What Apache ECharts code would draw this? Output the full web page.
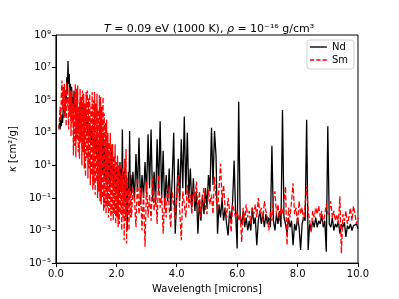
<!DOCTYPE html>
<html><head><meta charset="utf-8">
<script src="https://cdn.jsdelivr.net/npm/echarts@6/dist/echarts.min.js"></script>
<style>html,body{margin:0;padding:0;background:#fff}#c{width:399px;height:299px}</style>
</head><body><div id="c"></div>
<script>
// Two wavelength grids (microns): a fine one for the dense near-IR part, a coarser one after it
const nearStart = 0.10, nearStep = 0.02;   // 0.10 .. 2.48
const farStart = 2.50, farStep = 0.05;     // 2.50 .. 10.00
// log10 of opacity (cm^2/g)
const ndNearLog10 = [
 3.3, 3.6, 3.2, 3.9, 3.4, 4.1, 3.6, 4.4, 3.9, 4.8,
 4.2, 5.6, 4.8, 6.4, 5.4, 7.4, 6.0, 6.6, 5.2, 6.0,
 5.6, 5.8, 4.8, 5.2, 4.2, 5.6, 4.4, 5.0, 3.8, 4.6,
 3.6, 4.4, 3.1, 4.0, 3.6, 4.9, 4.2, 4.6, 3.8, 4.8,
 4.0, 4.6, 3.6, 4.4, 3.4, 4.2, 3.2, 4.0, 3.0, 3.8,
 2.8, 3.6, 2.6, 3.4, 2.4, 3.2, 2.2, 3.0, 2.0, 2.8,
 1.8, 2.6, 1.6, 2.8, 1.4, 2.4, 1.2, 2.6, 1.0, 2.2,
 0.8, 2.4, 0.6, 3.0, 0.4, 2.2, 0.2, 2.6, 0.0, 1.8,
 -0.2, 1.6, 0.2, 1.2, -0.4, 1.8, 0.0, 1.4, 2.3, 0.6,
 -0.4, 1.0, -0.2, 0.8, -0.8, 0.6, -0.6, 1.2, -1.0, 0.4,
 -0.8, 1.2, -0.4, 0.8, -0.6, 3.2, -0.2, 0.6, -1.2, 0.8,
 -0.6, 0.4, -1.0, -3.0, -0.4, 0.6, -0.8, 3.1, -0.6, 0.4
];
const ndFarLog10 = [
 -0.8, 0.6,
 -1.2, 1.7, -0.6, 2.7, -1.4, 0.4, -1.0, 1.2, -0.8, 2.9,
 -0.4, 3.2, -1.2, 0.6, -1.4, 2.6, -0.6, 3.7, -1.0, 1.9,
 -1.6, 0.4, -1.2, 0.8, -1.8, 0.2, 3.0, -3.2, -1.0, 1.4,
 -1.2, 2.6, -0.4, 4.0, -0.8, 3.0, -1.0, 0.8, -1.6, 0.2,
 -1.8, -0.6, -3.2, -1.2, -2.4, -0.8, -2.0, -0.4, -1.6, 0.4,
 -0.6, 3.3, -0.2, 3.1, 1.6, -3.2, -1.4, -2.2, -1.0, -2.4,
 -1.6, -2.6, -3.3, -1.8, -2.4, -1.2, 1.3, -2.0, -4.1, 4.9,
 -2.2, -2.6, -1.8, -2.8, -2.2, -3.0, -2.4, -3.0, -1.6, -2.6,
 -2.2, -3.9, -2.4, -1.8, -2.6, -2.0, -2.8, -2.0, -2.6, -2.2,
 -2.8, 2.2, -2.4, -3.0, -2.0, -2.6, -1.8, -2.8, 4.4, -2.2,
 -2.6, -3.2, -2.2, -2.8, -2.4, -3.9, -2.6, -3.0, -2.2, -2.8,
 -4.2, -2.6, -2.2, -2.4, 3.8, -4.2, -2.6, -3.0, -2.4, -2.8,
 -2.2, -2.8, -2.4, -2.6, -2.0, -2.8, -2.4, -4.3, 3.4, -2.6,
 -2.8, -2.2, -3.0, -2.6, -2.8, -2.4, -3.2, -2.6, -2.8, -2.5,
 -3.4, -2.7, -2.9, -2.6, -3.0, -2.7, -2.8, -2.6, -2.9
];
const smNearLog10 = [
 3.2, 3.9, 4.6, 3.8, 5.4, 6.2, 4.4, 5.8, 3.9, 6.0,
 4.0, 5.6, 3.4, 6.1, 4.6, 5.2, 3.2, 5.8, 4.0, 5.5,
 2.8, 5.6, 3.6, 4.8, 1.6, 5.4, 2.2, 6.0, 1.5, 5.7,
 2.6, 5.9, 1.8, 4.6, 1.4, 5.7, 2.4, 5.2, 1.0, 5.6,
 1.8, 5.4, 0.8, 4.8, 0.3, 5.5, 1.4, 5.6, 0.2, 5.1,
 0.8, 5.4, -0.2, 4.6, 0.4, 5.5, -0.5, 5.0, -0.2, 5.5,
 -0.8, 4.8, 0.0, 5.4, -1.0, 4.4, -0.6, 5.3, -1.2, 5.2,
 -1.4, 4.6, -1.0, 5.2, -1.8, 4.2, -1.6, 3.6, -2.0, 3.8,
 -1.6, 3.0, -2.2, 2.4, -1.8, 3.0, -2.4, 2.0, -2.0, 2.3,
 -2.4, 1.6, -2.0, 2.3, -2.6, 1.2, -2.2, 1.6, -2.8, 1.0,
 -2.6, 1.1, -2.0, 0.4, -3.0, 0.8, -2.2, 0.2, -3.6, 1.4,
 -2.4, 2.0, -3.8, 0.2, -2.0, -0.4, -3.0, 0.6, -2.2, -0.6
];
const smFarLog10 = [
 -2.2, -0.4,
 -1.0, -2.8, 0.2, -2.0, -0.4, -3.0, -0.6, -4.0, 0.0, -2.2,
 -0.8, -2.4, 0.2, -1.8, -0.6, -2.6, 0.4, -1.6, -0.8, -3.2,
 -1.0, -2.2, -0.2, -1.6, -2.8, -0.6, -1.4, -2.4, -0.8, 0.4,
 -1.8, -3.6, -0.6, -1.4, -2.2, -0.2, -1.6, -0.8, -2.0, -0.4,
 -1.2, 0.0, -1.8, -0.6, -2.2, -1.0, -0.4, -1.6, -2.0, -0.5,
 -1.4, -0.8, -2.0, 0.3, -1.0, -1.8, -0.4, 1.1, -1.2, -0.2,
 -1.6, -2.2, -1.0, -1.8, -3.1, -1.4, -1.3, -2.2, -1.8, -2.4,
 -2.0, -3.7, -1.6, -2.4, -1.4, -2.2, -1.8, -2.6, -1.6, -2.0,
 -1.4, -2.2, -1.0, -2.0, -1.6, -2.4, -1.2, -1.8, -2.2, -3.0,
 -1.8, -2.4, -1.0, -0.6, -2.0, -1.4, -2.4, -1.6, -2.0, -1.2,
 -0.3, -3.9, -1.6, -2.2, -1.2, -0.1, -2.0, -1.6, -2.6, -1.2,
 -2.0, -1.6, -2.4, -1.4, -0.3, -1.8, -2.4, -3.1, -1.8, -2.2,
 -1.6, -2.0, -1.5, -2.2, -1.8, -2.6, -2.5, -1.4, -2.0, -1.8,
 -1.2, -2.2, -1.8, -2.4, -2.0, -2.6, -0.9, -4.4, -2.0, -2.4,
 -1.8, -2.6, -2.2, -1.6, -2.4, -1.5, -2.0, -2.6, -2.2
];
const seriesNames = ['Nd', 'Sm'];
const xTicks = [0, 2, 4, 6, 8, 10];
const yTickExponents = [-5, -3, -1, 1, 3, 5, 7, 9];

const supMap = {'0':'⁰','1':'¹','2':'²','3':'³','4':'⁴','5':'⁵','6':'⁶','7':'⁷','8':'⁸','9':'⁹','-':'⁻'};
function sup(n){ return String(n).split('').map(c => supMap[c]).join(''); }
function toPairs(arr, start, step){ return arr.map((v,i) => [+(start + i*step).toFixed(3), Math.pow(10, v)]); }
function joined(near, far){ return toPairs(near, nearStart, nearStep).concat(toPairs(far, farStart, farStep)); }

const font = 'DejaVu Sans';
const chart = echarts.init(document.getElementById('c'), null, {renderer:'canvas'});
chart.setOption({
  animation: false,
  backgroundColor: '#fff',
  title: {
    text: '{i|T} = 0.09 eV (1000 K), {i|ρ} = 10⁻¹⁶ g/cm³',
    left: 204, top: 19, textAlign: 'center',
    textStyle: {
      fontFamily: font, fontSize: 11, fontWeight: 'normal', color: '#000',
      rich: { i: {fontFamily: font, fontSize: 11, fontStyle: 'italic', color:'#000'} }
    }
  },
  legend: {
    data: [
      {name: seriesNames[0], icon: 'path://M0,0H20V1.6H0Z'},
      {name: seriesNames[1], icon: 'path://M0,0H5V1.6H0Z M7.5,0H12.5V1.6H7.5Z M15,0H20V1.6H15Z'}
    ],
    orient: 'vertical',
    right: 45, top: 40,
    itemWidth: 17, itemHeight: 1.6, itemGap: 1,
    padding: [1, 6, 3, 3],
    backgroundColor: '#fff',
    borderColor: '#d0d0d0', borderWidth: 1, borderRadius: 3,
    textStyle: {fontFamily: font, fontSize: 10, color: '#000', lineHeight: 12}
  },
  grid: {
    left: 50, right: 41, top: 35, bottom: 33,
    show: true, borderColor: '#000', borderWidth: 1, backgroundColor: 'transparent'
  },
  xAxis: {
    type: 'value', min: 0, max: 10, interval: 2,
    name: 'Wavelength [microns]', nameLocation: 'middle', nameGap: 17,
    nameTextStyle: {fontFamily: font, fontSize: 10, color: '#000'},
    axisLine: {show: true, lineStyle: {color: '#000', width: 1}},
    axisTick: {show: true, inside: false, length: 4, lineStyle: {color: '#000'}},
    axisLabel: {fontFamily: font, fontSize: 10, color: '#000', margin: 6,
      formatter: v => xTicks.includes(v) ? v.toFixed(1) : ''},
    splitLine: {show: false}
  },
  yAxis: {
    type: 'log', logBase: 10, min: 1e-5, max: 1e9, interval: 2,
    name: '{i|κ} [cm²/g]', nameLocation: 'middle', nameGap: 32, nameRotate: 90,
    nameTextStyle: {fontFamily: font, fontSize: 10, color: '#000',
      rich: {i: {fontFamily: font, fontSize: 10, fontStyle: 'italic', color: '#000'}}},
    axisLine: {show: true, lineStyle: {color: '#000', width: 1}},
    axisTick: {show: true, inside: false, length: 4, lineStyle: {color: '#000'}},
    axisLabel: {fontFamily: font, fontSize: 10, color: '#000', margin: 5,
      formatter: v => { const e = Math.round(Math.log10(v)); return yTickExponents.includes(e) ? '10' + sup(e) : ''; }},
    splitLine: {show: false},
    minorTick: {show: false}
  },
  series: [
    { name: seriesNames[0], type: 'line', data: joined(ndNearLog10, ndFarLog10), symbol: 'none', showSymbol: false,
      sampling: 'none', lineStyle: {color: '#000', width: 1.3}, itemStyle: {color: '#000'}, z: 2 },
    { name: seriesNames[1], type: 'line', data: joined(smNearLog10, smFarLog10), symbol: 'none', showSymbol: false,
      sampling: 'none', lineStyle: {color: '#ff0000', width: 1.3, type: [5, 2.2]}, itemStyle: {color: '#ff0000'}, z: 3 }
  ]
});
</script></body></html>
